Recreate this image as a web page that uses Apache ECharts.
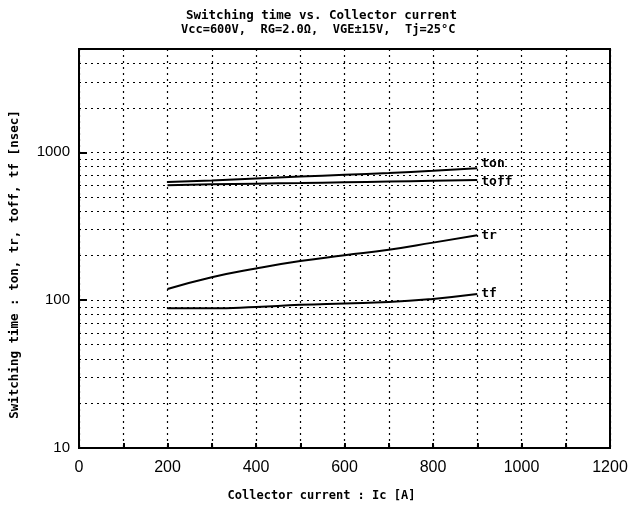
<!DOCTYPE html>
<html>
<head>
<meta charset="utf-8">
<script src="https://cdn.jsdelivr.net/npm/echarts@6/dist/echarts.min.js"></script>
<style>
    html, body {margin: 0; padding: 0; background: #fff;}
    #chart {width: 632px; height: 514px;}
</style>
</head>
<body>
<div id="chart"></div>
<script>
// collector current [A]
var current = [200, 300, 400, 500, 600, 700, 800, 900];
// switching times [nsec]
var ton = [630, 645, 665, 685, 705, 725, 750, 780];
var toff = [600, 608, 614, 620, 627, 634, 642, 650];
var tr = [119, 143, 164, 184, 201, 219, 245, 275];
var tf = [88, 88, 90, 93, 95, 97, 102, 110];
// minor horizontal grid lines on the log axis
var minorGrid = [20, 30, 40, 50, 60, 70, 80, 90, 200, 300, 400, 500, 600, 700, 800, 900, 2000, 3000, 4000];

var mono = 'DejaVu Sans Mono';

function pairs(ys) {
    var out = [];
    for (var i = 0; i < current.length; i++) {
        out.push([current[i], ys[i]]);
    }
    return out;
}

function curve(name, ys, offset) {
    return {
        name: name,
        type: 'line',
        data: pairs(ys),
        showSymbol: false,
        smooth: true,
        lineStyle: {color: '#000', width: 2},
        endLabel: {
            show: true,
            formatter: '{a}',
            color: '#000',
            fontFamily: mono,
            fontWeight: 'bold',
            fontSize: 13,
            offset: offset
        },
        silent: true
    };
}

var gridLines = [];
for (var i = 0; i < minorGrid.length; i++) {
    gridLines.push({yAxis: minorGrid[i]});
}

var option = {
    animation: false,
    title: [{
        text: 'Switching time vs. Collector current',
        left: 181, top: 4,
        textStyle: {fontFamily: mono, fontWeight: 'bold', fontSize: 12.5, color: '#000'}
    }, {
        text: 'Vcc=600V,  RG=2.0Ω,  VGE±15V,  Tj=25°C',
        left: 176, top: 19,
        textStyle: {fontFamily: mono, fontWeight: 'bold', fontSize: 12, color: '#000'}
    }],
    grid: {
        left: 77, right: 22, top: 49, bottom: 66,
        show: true, borderColor: '#000', borderWidth: 2
    },
    xAxis: {
        type: 'value',
        min: 0, max: 1200, interval: 100,
        name: 'Collector current : Ic [A]',
        nameLocation: 'middle',
        nameGap: 42,
        nameTextStyle: {fontFamily: mono, fontWeight: 'bold', fontSize: 12, color: '#000', padding: [0, 46, 0, 0]},
        axisLine: {lineStyle: {color: '#000', width: 2}},
        axisTick: {inside: true, length: 5, lineStyle: {color: '#000', width: 2}},
        axisLabel: {
            color: '#000', fontFamily: 'Liberation Sans', fontSize: 16, margin: 12,
            formatter: function (v) { return v % 200 === 0 ? String(v) : ''; }
        },
        splitLine: {show: true, lineStyle: {color: '#000', type: [2, 4], width: 1.2}}
    },
    yAxis: {
        type: 'log',
        logBase: 10,
        min: 10, max: 5000,
        name: 'Switching time : ton, tr, toff, tf [nsec]',
        nameLocation: 'middle',
        nameGap: 58,
        nameTextStyle: {fontFamily: mono, fontWeight: 'bold', fontSize: 12.5, color: '#000', padding: [0, 32, 0, 0]},
        axisLine: {lineStyle: {color: '#000', width: 2}},
        axisTick: {inside: true, length: 8, lineStyle: {color: '#000', width: 2}},
        axisLabel: {
            color: '#000', fontFamily: 'Liberation Sans', fontSize: 15, margin: 9,
            showMaxLabel: false,
            formatter: function (v) {
                var l = Math.log(v) / Math.LN10;
                return Math.abs(l - Math.round(l)) < 1e-6 ? String(v) : '';
            }
        },
        splitLine: {show: true, lineStyle: {color: '#000', type: [2, 4], width: 1.2}}
    },
    series: [
        curve('ton', ton, [-4, -5]),
        curve('toff', toff, [-4, 2]),
        curve('tr', tr, [-4, 0]),
        curve('tf', tf, [-4, 0]),
        {
            name: 'grid',
            type: 'line',
            data: [],
            silent: true,
            markLine: {
                silent: true,
                symbol: 'none',
                label: {show: false},
                lineStyle: {color: '#000', type: [2, 4], width: 1.2},
                data: gridLines
            }
        }
    ]
};

var chart = echarts.init(document.getElementById('chart'));
chart.setOption(option);
</script>
</body>
</html>
